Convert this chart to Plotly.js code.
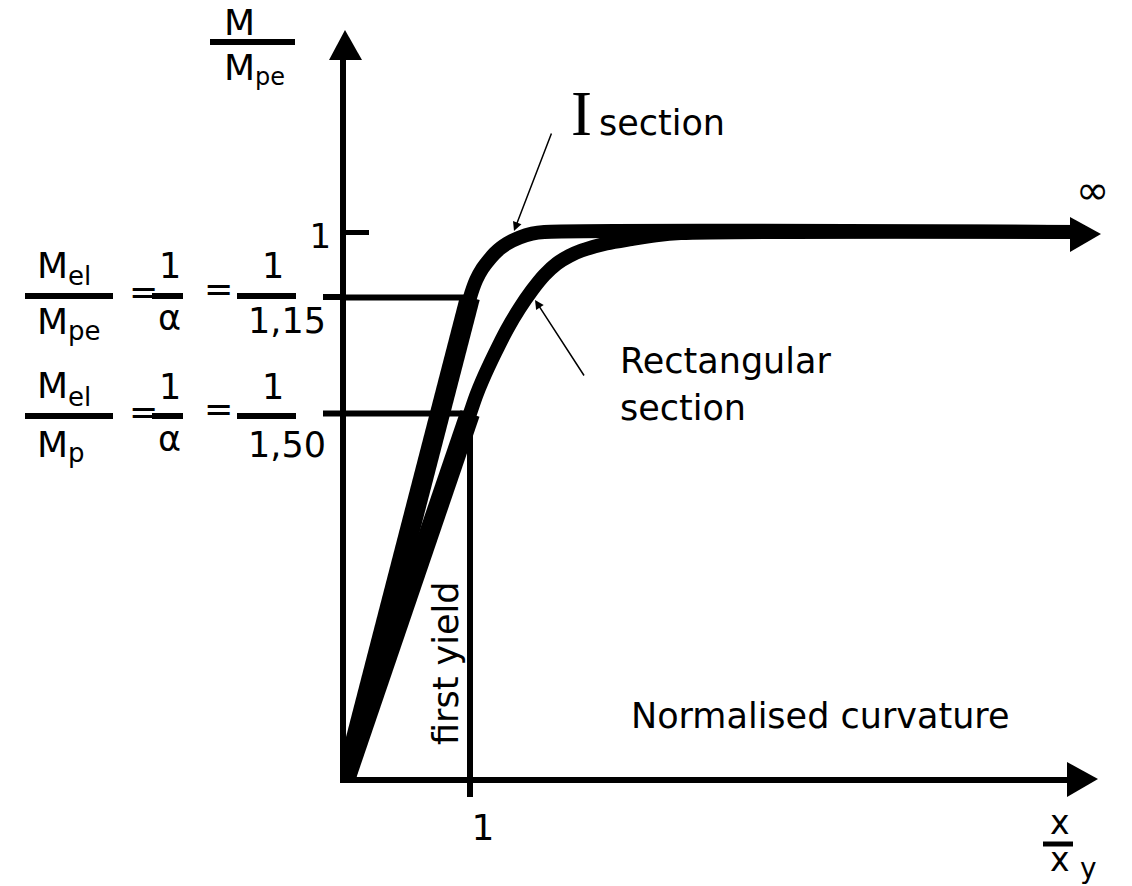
<!DOCTYPE html>
<html><head><meta charset="utf-8">
<script src="https://cdn.plot.ly/plotly-3.0.1.min.js"></script>
<style>html,body{margin:0;padding:0;background:#fff;} #chart{width:1132px;height:886px;}</style>
</head><body><div id="chart"></div>
<script>
// ---------------- data ----------------
const iSectionX = [0, 1.0, 1.05, 1.1, 1.15, 1.2, 1.25, 1.3, 1.4, 1.5, 1.6, 6.0];
const iSectionY = [0, 0.88, 0.912, 0.933, 0.948, 0.961, 0.971, 0.979, 0.99, 0.997, 1.0, 1.0];
const rectX = [0, 1.0, 1.05, 1.1, 1.2, 1.3, 1.4, 1.5, 1.6, 1.7, 1.8, 1.9, 2.1, 2.3, 2.5, 2.7, 6.0];
const rectY = [0, 0.667, 0.700, 0.728, 0.777, 0.822, 0.860, 0.893, 0.921, 0.942, 0.956, 0.966, 0.979, 0.987, 0.994, 0.998, 1.0];
const refLevels = [0.88, 0.667];      // M_el/M_pe = 1/1,15  and  M_el/M_p = 1/1,50 (as drawn)
const refLevelRows = [297, 413.5];    // pixel rows of the same two levels, for the stubs left of the axis
const firstYieldX = 1;
const xTickVals = [1], xTickText = ['1'];
const yTickVals = [1], yTickText = ['1'];
const denomTexts = ['1,15', '1,50'];
const subTexts = [['el', 'pe'], ['el', 'p']];

// ---------------- layout helpers ----------------
const W = 1132, H = 886;
const FONT = 'DejaVu Sans, Arial, sans-serif';
const px = v => v / W;
const py = v => 1 - v / H;
function txt(text, x, y, size, extra) {
  return Object.assign({xref: 'paper', yref: 'paper', x: px(x), y: py(y), xanchor: 'center', yanchor: 'middle',
    text: text, showarrow: false, font: {family: FONT, size: size, color: '#000'}}, extra || {});
}
function bar(x0, x1, y, w) {
  return {type: 'line', xref: 'paper', yref: 'paper', x0: px(x0), x1: px(x1), y0: py(y), y1: py(y),
    line: {color: '#000', width: w || 6}};
}
function tri(pts) {
  const d = 'M ' + pts.map(p => px(p[0]) + ' ' + py(p[1])).join(' L ') + ' Z';
  return {type: 'path', xref: 'paper', yref: 'paper', path: d, fillcolor: '#000', line: {width: 0}};
}

// ---------------- traces ----------------
const traces = [
  {x: rectX, y: rectY, mode: 'lines', line: {color: '#000', width: 14, shape: 'spline', smoothing: 0.8}, hoverinfo: 'skip'},
  {x: rectX.slice(0, 2), y: rectY.slice(0, 2), mode: 'lines', line: {color: '#000', width: 20}, hoverinfo: 'skip'},
  {x: iSectionX, y: iSectionY, mode: 'lines', line: {color: '#000', width: 14, shape: 'spline', smoothing: 0.8}, hoverinfo: 'skip'},
  {x: iSectionX.slice(0, 2), y: iSectionY.slice(0, 2), mode: 'lines', line: {color: '#000', width: 20}, hoverinfo: 'skip'}
];

// ---------------- shapes ----------------
const shapes = [
  {type: 'line', xref: 'x', yref: 'y', x0: firstYieldX, x1: firstYieldX, y0: 0, y1: refLevels[1], line: {color: '#000', width: 6}},
  tri([[329, 60], [345, 30], [362, 60]]),
  tri([[1067, 762], [1098, 779], [1067, 797]]),
  tri([[1070, 217], [1101, 234], [1070, 252]]),
  bar(210, 295, 42), bar(1043, 1073, 844, 5)
];
refLevels.forEach((lv, i) => {
  shapes.push({type: 'line', xref: 'x', yref: 'y', x0: 0, x1: firstYieldX, y0: lv, y1: lv, line: {color: '#000', width: 6}});
  shapes.push(bar(323, 346, refLevelRows[i]));
});

// ---------------- annotations ----------------
const ann = [
  txt('M', 239, 23, 36), txt('M', 239, 68, 36), txt('pe', 270, 77, 24),
  txt('I', 581, 114, 63, {font: {family: 'Liberation Serif, Times New Roman, serif', size: 63, color: '#000'}}),
  txt('section', 662, 123, 35),
  txt('Rectangular', 618, 361, 35, {xanchor: 'left'}),
  txt('section', 618, 408, 35, {xanchor: 'left'}),
  txt('Normalised curvature', 820, 716, 35),
  txt('first yield', 446, 664, 35, {textangle: -90}),
  txt('\u221e', 1092, 190, 40),
  txt('x', 1060, 822, 33), txt('x', 1060, 859, 33), txt('y', 1088, 868, 28),
  {xref: 'paper', yref: 'paper', x: px(514), y: py(231), ax: 38, ay: -99, text: '', showarrow: true,
   arrowhead: 2, arrowsize: 1.2, arrowwidth: 1.5, arrowcolor: '#000', standoff: 0},
  {xref: 'paper', yref: 'paper', x: px(535), y: py(300), ax: 50, ay: 77, text: '', showarrow: true,
   arrowhead: 2, arrowsize: 1.2, arrowwidth: 1.5, arrowcolor: '#000', standoff: 0}
];
[296, 416].forEach((by, r) => {
  const dy = r === 0 ? 0 : 121;
  ann.push(txt('M', 52.5, 265 + dy, 36));
  ann.push(txt(subTexts[r][0], 79, 276 + dy, 26));
  ann.push(txt('M', 52.5, 321 + (r === 0 ? 0 : 124), 36));
  ann.push(txt(subTexts[r][1], r === 0 ? 84 : 76, 331 + (r === 0 ? 0 : 122), 26));
  ann.push(txt('=', 143, by - 4, 35));
  ann.push(txt('1', 170, 266 + dy, 35));
  ann.push(txt('\u03b1', 169, 318 + dy, 35));
  ann.push(txt('=', 219, by - 7, 35));
  ann.push(txt('1', 273, 266 + dy, 35));
  ann.push(txt(denomTexts[r], 286.5, 321 + (r === 0 ? 0 : 124), 35));
  shapes.push(bar(25, 113, by), bar(152, 183, by), bar(237, 296, by));
});

const layout = {
  width: W, height: H, margin: {l: 0, r: 0, t: 0, b: 0}, showlegend: false,
  paper_bgcolor: '#fff', plot_bgcolor: '#fff',
  xaxis: {domain: [346 / W, 1085 / W], range: [0, (1085 - 346) / 124], showline: true, linewidth: 6, linecolor: '#000',
    showgrid: false, zeroline: false, tickmode: 'array', tickvals: xTickVals, ticktext: xTickText,
    ticks: 'outside', ticklen: 14, tickwidth: 6, tickcolor: '#000', ticklabelshift: 13, ticklabelstandoff: 0,
    tickfont: {family: FONT, size: 36, color: '#000'}, fixedrange: true},
  yaxis: {domain: [(H - 777) / H, (H - 45) / H], range: [0, (777 - 45) / 545], showline: true, linewidth: 6, linecolor: '#000',
    showgrid: false, zeroline: false, tickmode: 'array', tickvals: yTickVals, ticktext: yTickText,
    ticks: 'inside', ticklen: 23, tickwidth: 5, tickcolor: '#000', ticklabelstandoff: 2, ticklabelshift: 4,
    tickfont: {family: FONT, size: 34, color: '#000'}, fixedrange: true},
  shapes: shapes,
  annotations: ann
};
Plotly.newPlot('chart', traces, layout, {displayModeBar: false, staticPlot: true});
</script></body></html>
